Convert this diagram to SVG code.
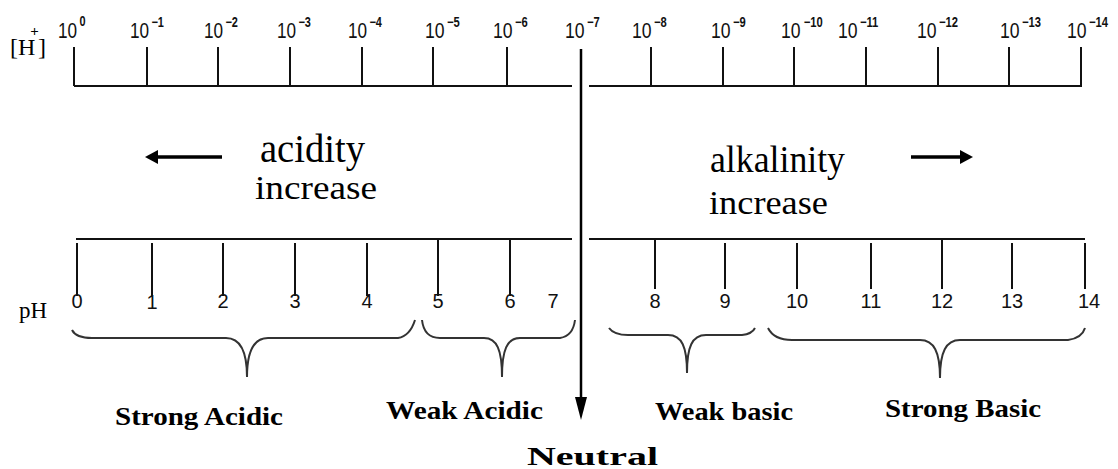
<svg xmlns="http://www.w3.org/2000/svg" width="1118" height="469" viewBox="0 0 1118 469">
<style>
.ln{stroke:#111;stroke-width:2;fill:none}
.br{stroke:#333;stroke-width:2;fill:none}
.ten{font-family:"Liberation Sans",Arial,sans-serif;font-size:22px;fill:#111}
.sup{font-size:14px;font-weight:bold}
.num{font-family:"Liberation Sans",Arial,sans-serif;font-size:20px;fill:#111;text-anchor:middle}
.ser{font-family:"Liberation Serif","Times New Roman",serif;fill:#000}
.lab{font-family:"Liberation Serif","Times New Roman",serif;font-weight:bold;font-size:26px;fill:#000}
</style>
<rect width="1118" height="469" fill="#fff"/>
<g id="h-scale">
<text class="ser" x="10" y="55" font-size="24">[H<tspan font-size="15" font-weight="bold" dx="-5" dy="-19">+</tspan><tspan dx="-1" dy="19">]</tspan></text>
<path class="ln" d="M74,86H572M589,86H1082"/>
<path class="ln" d="M74,47V86M147,47V86M218,47V86M290,47V86M362,47V86M433,47V86M507,47V86M651,47V86M723,47V86M794,47V86M866,47V86M938,47V86M1009,47V86M1081,47V86"/>
<g>
<text class="ten" transform="translate(58 38) scale(0.78 1)">10<tspan class="sup" dx="3" dy="-12">0</tspan></text>
<text class="ten" transform="translate(130 38) scale(0.78 1)">10<tspan class="sup" dx="3" dy="-11">−1</tspan></text>
<text class="ten" transform="translate(204 38) scale(0.78 1)">10<tspan class="sup" dx="3" dy="-11">−2</tspan></text>
<text class="ten" transform="translate(277 38) scale(0.78 1)">10<tspan class="sup" dx="3" dy="-11">−3</tspan></text>
<text class="ten" transform="translate(348 38) scale(0.78 1)">10<tspan class="sup" dx="3" dy="-11">−4</tspan></text>
<text class="ten" transform="translate(425 38) scale(0.8 1)">10<tspan class="sup" dx="3" dy="-11">−5</tspan></text>
<text class="ten" transform="translate(493 38) scale(0.8 1)">10<tspan class="sup" dx="3" dy="-11">−6</tspan></text>
<text class="ten" transform="translate(565 38) scale(0.8 1)">10<tspan class="sup" dx="3" dy="-11">−7</tspan></text>
<text class="ten" transform="translate(632 38) scale(0.8 1)">10<tspan class="sup" dx="3" dy="-11">−8</tspan></text>
<text class="ten" transform="translate(711 38) scale(0.8 1)">10<tspan class="sup" dx="3" dy="-11">−9</tspan></text>
<text class="ten" transform="translate(781 38) scale(0.8 1)">10<tspan class="sup" dx="4" dy="-11">−10</tspan></text>
<text class="ten" transform="translate(838 38) scale(0.8 1)">10<tspan class="sup" dx="3" dy="-11">−11</tspan></text>
<text class="ten" transform="translate(917 38) scale(0.8 1)">10<tspan class="sup" dx="3" dy="-11">−12</tspan></text>
<text class="ten" transform="translate(1000 38) scale(0.8 1)">10<tspan class="sup" dx="3" dy="-11">−13</tspan></text>
<text class="ten" transform="translate(1067 38) scale(0.8 1)">10<tspan class="sup" dx="3" dy="-11">−14</tspan></text>
</g>
</g>
<g id="ph-scale">
<text class="ser" x="19" y="318" font-size="23">pH</text>
<path class="ln" d="M76,239H572M589,239H1085"/>
<path class="ln" d="M77,243V296M152,243V296M223,243V296M295,243V296M367,243V296M438,240V296M510,240V296M655,240V289M725,243V289M797,243V289M871,243V289M942,240V289M1012,243V289M1085,243V289"/>
<text class="num" x="77" y="308">0</text>
<text class="num" x="152" y="309">1</text>
<text class="num" x="223" y="308">2</text>
<text class="num" x="295" y="308">3</text>
<text class="num" x="367" y="308">4</text>
<text class="num" x="438" y="308">5</text>
<text class="num" x="510" y="308">6</text>
<text class="num" x="553" y="308">7</text>
<text class="num" x="655" y="308">8</text>
<text class="num" x="725" y="308">9</text>
<text class="num" x="797" y="308">10</text>
<text class="num" x="871" y="308">11</text>
<text class="num" x="942" y="308">12</text>
<text class="num" x="1012" y="308">13</text>
<text class="num" x="1089" y="308">14</text>
</g>
<g id="acidity">
<path d="M145,157L158,150V164Z" fill="#000"/>
<path d="M156,157H222" stroke="#000" stroke-width="3.5"/>
<text class="ser" x="260" y="162" font-size="40" textLength="105" lengthAdjust="spacingAndGlyphs">acidity</text>
<text class="ser" x="255" y="199" font-size="34" textLength="122" lengthAdjust="spacingAndGlyphs">increase</text>
</g>
<g id="alkalinity">
<path d="M973,157L960,150V164Z" fill="#000"/>
<path d="M911,157H962" stroke="#000" stroke-width="3.5"/>
<text class="ser" x="710" y="172" font-size="38" textLength="135" lengthAdjust="spacingAndGlyphs">alkalinity</text>
<text class="ser" x="709" y="214" font-size="34" textLength="119" lengthAdjust="spacingAndGlyphs">increase</text>
</g>
<g id="connectors">
<path d="M581,49V402" stroke="#000" stroke-width="2.5"/>
<path d="M575,397L581,420L587,397Z" fill="#000"/>
</g>
<g id="strong-acidic">
<path class="br" d="M72,330Q76,338 92,338L226,338C240,338 247,350 247,377C247,350 254,338 268,338L398,338Q410,336 415,320"/>
<text class="lab" x="115" y="425" textLength="168" lengthAdjust="spacingAndGlyphs">Strong Acidic</text>
</g>
<g id="weak-acidic">
<path class="br" d="M422,320Q424,338 440,338L484,338C497,338 502,350 502,377C502,350 507,338 520,338L560,338Q573,336 575,320"/>
<text class="lab" x="386" y="419" textLength="157" lengthAdjust="spacingAndGlyphs">Weak Acidic</text>
</g>
<g id="neutral">
<text class="lab" x="527" y="465" font-size="37" textLength="131" lengthAdjust="spacingAndGlyphs">Neutral</text>
</g>
<g id="weak-basic">
<path class="br" d="M609,328Q614,335 628,335L668,335C682,335 687,347 687,373C687,347 692,335 706,335L742,335Q752,334 755,328"/>
<text class="lab" x="655" y="420" textLength="138" lengthAdjust="spacingAndGlyphs">Weak basic</text>
</g>
<g id="strong-basic">
<path class="br" d="M768,328Q774,340 792,340L920,340C934,340 940,352 940,378C940,352 946,340 960,340L1068,340Q1082,338 1085,328"/>
<text class="lab" x="885" y="417" textLength="156" lengthAdjust="spacingAndGlyphs">Strong Basic</text>
</g>
</svg>
